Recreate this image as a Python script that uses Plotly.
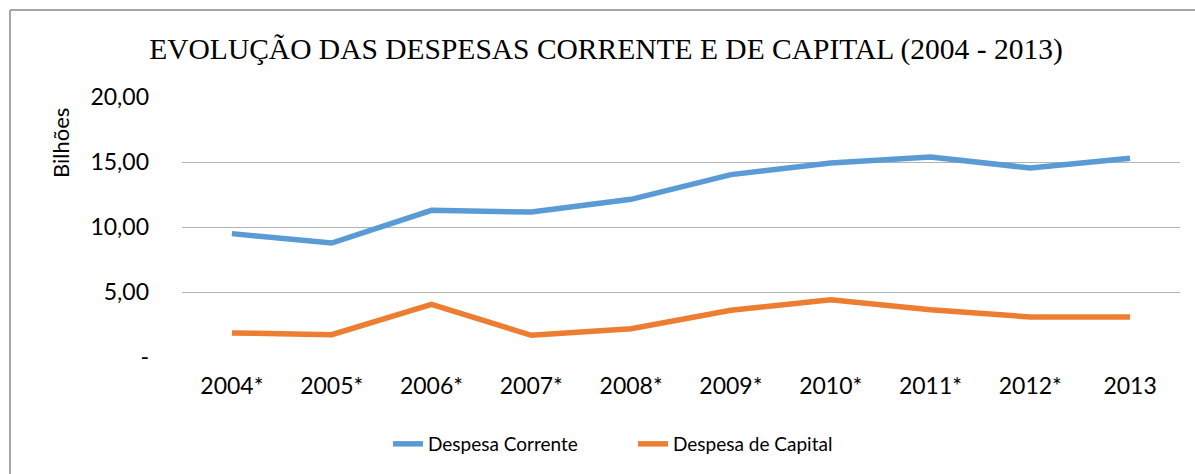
import plotly.graph_objects as go

# Anos (os marcados com * são estimativas)
anos = ["2004*", "2005*", "2006*", "2007*", "2008*", "2009*", "2010*", "2011*", "2012*", "2013"]

# Despesas em bilhões
despesa_corrente = [9.49, 8.77, 11.28, 11.15, 12.13, 14.03, 14.92, 15.38, 14.54, 15.28]
despesa_capital = [1.85, 1.72, 4.05, 1.67, 2.18, 3.59, 4.41, 3.64, 3.08, 3.08]

# Eixo Y
y_tick_vals = [0, 5, 10, 15, 20]
y_tick_text = ["-", "5,00", "10,00", "15,00", "20,00"]

AZUL = "#5B9BD5"
LARANJA = "#ED7D31"
SANS = "Lato, 'Open Sans', sans-serif"

fig = go.Figure()
fig.add_trace(go.Scatter(
    x=anos, y=despesa_corrente, mode="lines", name="Despesa Corrente",
    line=dict(color=AZUL, width=5.5),
))
fig.add_trace(go.Scatter(
    x=anos, y=despesa_capital, mode="lines", name="Despesa de Capital",
    line=dict(color=LARANJA, width=5.5),
))

W, H = 1195, 474
L, R, T, B = 182, 15, 97, 117

fig.update_layout(
    width=W, height=H,
    margin=dict(l=L, r=R, t=T, b=B),
    paper_bgcolor="white",
    plot_bgcolor="white",
    title=dict(
        text="EVOLUÇÃO DAS DESPESAS CORRENTE E DE CAPITAL (2004 - 2013)",
        font=dict(family="'Liberation Serif', 'Times New Roman', serif", size=29.5, color="#000000"),
        x=606 / W, xanchor="center",
        y=1 - 49 / H, yanchor="middle", yref="container",
    ),
    xaxis=dict(
        type="category",
        range=[-0.5, 9.5],
        showgrid=False, showline=False, zeroline=False,
        ticks="",
        tickfont=dict(family=SANS, size=23, color="#000000"),
        ticklabelstandoff=13,
    ),
    yaxis=dict(
        range=[0, 20],
        tickvals=y_tick_vals, ticktext=y_tick_text,
        showgrid=True, gridcolor="#B3B3B3", gridwidth=1.3,
        zeroline=False, showline=False, ticks="",
        tickfont=dict(family=SANS, size=23, color="#000000"),
        ticklabelstandoff=32,
    ),
    legend=dict(
        orientation="h",
        x=388 / W, xanchor="left", xref="container",
        y=1 - 444 / H, yanchor="middle", yref="container",
        font=dict(family=SANS, size=19, color="#000000"),
        bgcolor="rgba(0,0,0,0)",
        entrywidth=200, entrywidthmode="pixels",
    ),
    showlegend=True,
)

# Rótulo do eixo Y
fig.add_annotation(
    text="Bilhões", textangle=-90,
    xref="paper", yref="paper",
    x=(60 - L) / (W - L - R), y=1 - (143 - T) / (H - T - B),
    xanchor="center", yanchor="middle", showarrow=False,
    font=dict(family=SANS, size=22, color="#000000"),
)

# Moldura do gráfico (bordas superior e esquerda)
pw, ph = W - L - R, H - T - B
bx = (10 - L) / pw
by = 1 + (T - 10) / ph
fig.add_shape(type="line", xref="paper", yref="paper",
              x0=bx, x1=(W - L) / pw, y0=by, y1=by,
              line=dict(color="#A6A6A6", width=2))
fig.add_shape(type="line", xref="paper", yref="paper",
              x0=bx, x1=bx, y0=by, y1=-(B + 5) / ph,
              line=dict(color="#A6A6A6", width=2))

fig.write_html("out.html")
